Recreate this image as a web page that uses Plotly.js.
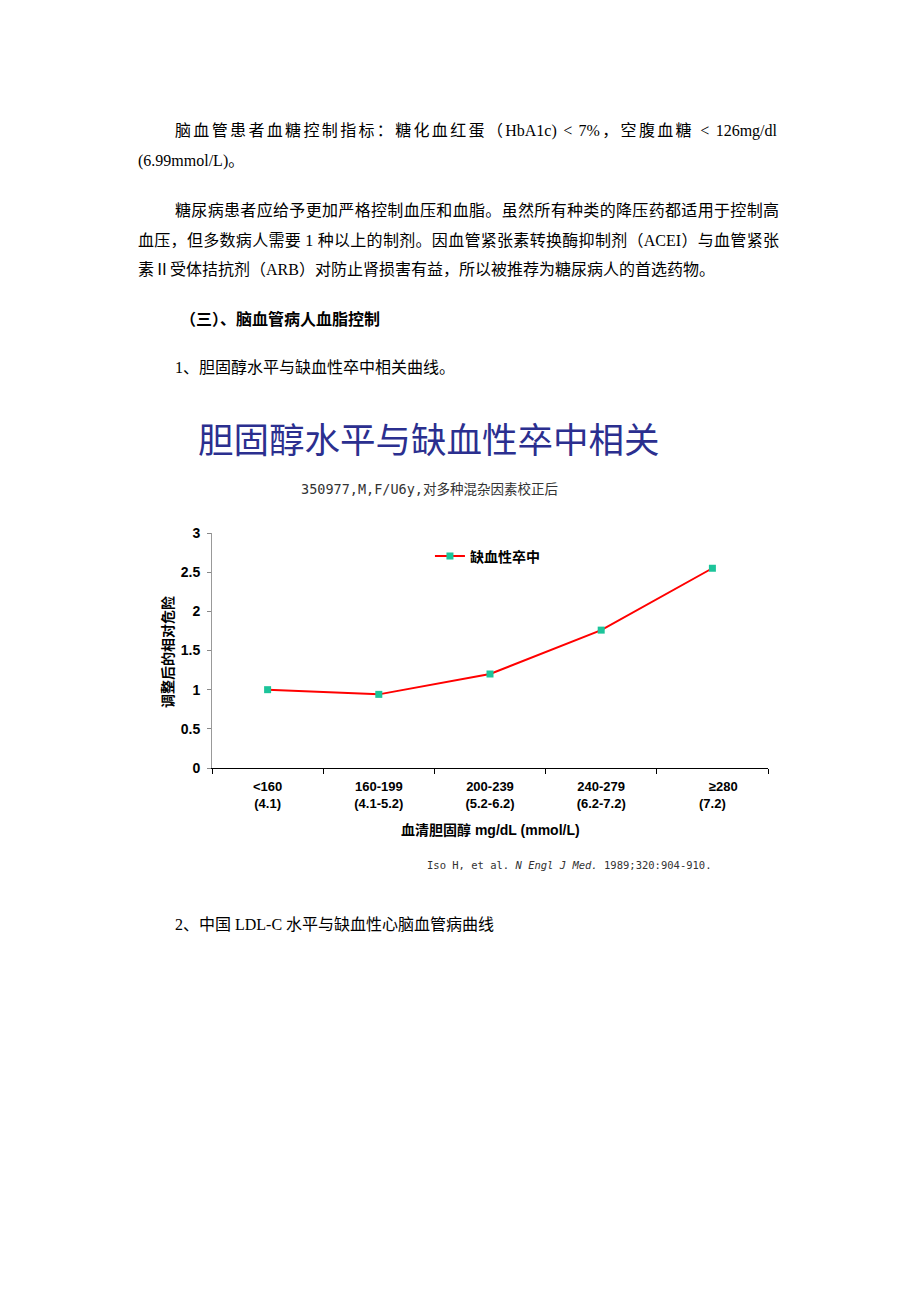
<!DOCTYPE html>
<html>
<head>
<meta charset="utf-8">
<script src="https://cdn.plot.ly/plotly-3.0.1.min.js"></script>
<style>
  html, body { margin: 0; padding: 0; background: #fff; }
  #page { position: relative; width: 920px; height: 1302px; overflow: hidden; }
  #chart { position: absolute; left: 0; top: 0; width: 920px; height: 1302px; }
  .t { position: absolute; font-family: "Liberation Serif", "Noto Sans CJK SC", serif; font-size: 16px; color: #000; white-space: nowrap; line-height: 20px; }
  .j { text-align: justify; text-align-last: justify; white-space: normal; }
</style>
</head>
<body>
<div id="page">
  <div id="chart"></div>
  <div class="t j" style="left:175px; top:121px; width:602px;">脑血管患者血糖控制指标：糖化血红蛋（HbA1c) &lt; 7%，空腹血糖 &lt; 126mg/dl</div>
  <div class="t" style="left:138px; top:151px;">(6.99mmol/L)。</div>
  <div class="t j" style="left:175px; top:201px; width:604px;">糖尿病患者应给予更加严格控制血压和血脂。虽然所有种类的降压药都适用于控制高</div>
  <div class="t j" style="left:138px; top:231px; width:641px;">血压，但多数病人需要 1 种以上的制剂。因血管紧张素转换酶抑制剂（ACEI）与血管紧张</div>
  <div class="t" style="left:138px; top:260px;">素Ⅱ受体拮抗剂（ARB）对防止肾损害有益，所以被推荐为糖尿病人的首选药物。</div>
  <div class="t" style="left:180px; top:310px; font-weight:bold;">（三）、脑血管病人血脂控制</div>
  <div class="t" style="left:175px; top:358px;">1、胆固醇水平与缺血性卒中相关曲线。</div>
  <div class="t" style="left:175px; top:915px;">2、中国 LDL-C 水平与缺血性心脑血管病曲线</div>
</div>
<script>
// Data
const categories = ["<160", "160-199", "200-239", "240-279", "≥280"];
const tickLabels = ["<160<br>(4.1)", "160-199<br>(4.1-5.2)", "200-239<br>(5.2-6.2)", "240-279<br>(6.2-7.2)", "\u00A0\u00A0\u00A0\u00A0\u00A0\u00A0≥280<br>(7.2)"];
const strokeRR = [1.0, 0.94, 1.2, 1.76, 2.55];
const seriesName = "缺血性卒中";

const trace = {
  x: categories,
  y: strokeRR,
  type: "scatter",
  mode: "lines+markers",
  name: seriesName,
  line: { color: "#ff0000", width: 2 },
  marker: { symbol: "square", size: 7, color: "#1cc49a" }
};

const boldFont = { family: "Arial, 'Noto Sans CJK SC', sans-serif", size: 13, color: "#000", weight: "bold" };

const layout = {
  width: 920,
  height: 1302,
  margin: { l: 212, r: 152, t: 533, b: 534 },
  paper_bgcolor: "rgba(0,0,0,0)",
  plot_bgcolor: "rgba(0,0,0,0)",
  showlegend: true,
  legend: {
    x: 0.392, y: 0.9, xanchor: "left", yanchor: "middle",
    bgcolor: "rgba(0,0,0,0)",
    font: { family: "'Noto Sans CJK SC', sans-serif", size: 14, color: "#000", weight: "bold" },
    itemwidth: 30
  },
  xaxis: {
    type: "category",
    range: [-0.5, 4.5],
    tickvals: categories,
    ticktext: tickLabels,
    tickson: "boundaries",
    ticks: "outside",
    ticklen: 5,
    tickcolor: "#000",
    ticklabelstandoff: 6,
    showline: true,
    linecolor: "#000",
    linewidth: 1,
    showgrid: false,
    zeroline: false,
    tickfont: boldFont,
    fixedrange: true
  },
  yaxis: {
    range: [0, 3],
    tickvals: [0, 0.5, 1, 1.5, 2, 2.5, 3],
    ticktext: ["0", "0.5", "1", "1.5", "2", "2.5", "3"],
    ticks: "outside",
    ticklen: 4,
    tickcolor: "#888",
    ticklabelstandoff: 4,
    showline: true,
    linecolor: "#999",
    linewidth: 1,
    showgrid: false,
    zeroline: false,
    tickfont: { family: "Arial, sans-serif", size: 14, color: "#000", weight: "bold" },
    fixedrange: true
  },
  annotations: [
    {
      text: "胆固醇水平与缺血性卒中相关",
      xref: "paper", yref: "paper", x: 0.39, y: 1.408,
      xanchor: "center", yanchor: "middle", showarrow: false,
      font: { family: "'Noto Sans CJK SC', sans-serif", size: 35.5, color: "#2b2f8f" }
    },
    {
      text: "350977,M,F/U6y,对多种混杂因素校正后",
      xref: "paper", yref: "paper", x: 0.392, y: 1.187,
      xanchor: "center", yanchor: "middle", showarrow: false,
      font: { family: "'DejaVu Sans Mono', 'Noto Sans CJK SC', monospace", size: 13.5, color: "#333" }
    },
    {
      text: "调整后的相对危险",
      xref: "paper", yref: "paper", x: -0.081, y: 0.493,
      xanchor: "center", yanchor: "middle", showarrow: false, textangle: -90,
      font: { family: "'Noto Sans CJK SC', sans-serif", size: 14, color: "#000", weight: "bold" }
    },
    {
      text: "血清胆固醇 mg/dL (mmol/L)",
      xref: "paper", yref: "paper", x: 0.5, y: -0.264,
      xanchor: "center", yanchor: "middle", showarrow: false,
      font: { family: "Arial, 'Noto Sans CJK SC', sans-serif", size: 14, color: "#000", weight: "bold" }
    },
    {
      text: "Iso H, et al. <i>N Engl J Med.</i> 1989;320:904-910.",
      xref: "paper", yref: "paper", x: 0.383, y: -0.413,
      xanchor: "left", yanchor: "middle", showarrow: false,
      font: { family: "'DejaVu Sans Mono', monospace", size: 10.5, color: "#333" }
    }
  ]
};

Plotly.newPlot("chart", [trace], layout, { staticPlot: true, displayModeBar: false });
</script>
</body>
</html>
